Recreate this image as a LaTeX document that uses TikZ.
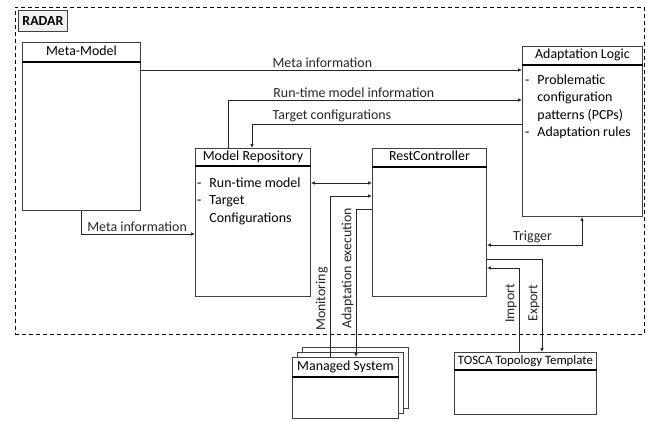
\documentclass[tikz,border=0pt]{standalone}
\usepackage{fontspec}
\setmainfont{Carlito}
\usepackage{tikz}
\usetikzlibrary{arrows.meta,positioning,calc}

\begin{document}
\begin{tikzpicture}[
  x=1pt, y=-1pt,
  font=\fontsize{13.9}{17.5}\selectfont,
  comp/.style={rectangle, draw=black!75, line width=0.9pt, fill=white, anchor=north west, inner sep=0pt},
  head/.style={inner sep=0pt, text height=9.5pt, text depth=3pt},
  sep/.style={line width=1.8pt},
  list/.style={anchor=north west, inner sep=0pt, align=left},
  flow/.style={-{Latex[length=4pt,width=3.5pt]}, line width=0.7pt, black!85},
  dflow/.style={{Latex[length=4pt,width=3.5pt]}-{Latex[length=4pt,width=3.5pt]}, line width=0.7pt, black!85},
  lbl/.style={inner sep=2pt}
]
  \useasboundingbox (0,0) rectangle (655,420);

  % RADAR frame
  \node[comp, draw=black, fill=none, dash pattern=on 4pt off 3pt, minimum width=629pt, minimum height=327pt] (radar) at (15,7) {};
  \node[comp, fill=gray!12, minimum width=49pt, minimum height=21pt, font=\fontsize{13.9}{17}\selectfont\bfseries] (radartag) at ([xshift=3pt,yshift=-3pt]radar.north west) {RADAR};

  % Components
  \node[comp, minimum width=118pt, minimum height=168pt] (meta) at (22,42) {};
  \node[head] (metahead) at ([yshift=-10pt]meta.north) {Meta-Model};
  \draw[sep] ([yshift=-20pt]meta.north west) -- ([yshift=-20pt]meta.north east);

  \node[comp, minimum width=120pt, minimum height=170pt] (adapt) at (522,46) {};
  \node[head] (adapthead) at ([yshift=-9.5pt]adapt.north) {Adaptation Logic};
  \draw[sep] ([yshift=-19pt]adapt.north west) -- ([yshift=-19pt]adapt.north east);
  \node[list] (adaptlist) at ([xshift=3pt,yshift=-26pt]adapt.north west)
    {\begin{tabular}{@{}l@{\hspace{8pt}}l@{}}-&Problematic\\&configuration\\&patterns (PCPs)\\-&Adaptation rules\end{tabular}};

  \node[comp, minimum width=115pt, minimum height=148pt] (repo) at (195,148) {};
  \node[head] (repohead) at ([yshift=-9pt]repo.north) {Model Repository};
  \draw[sep] ([yshift=-18pt]repo.north west) -- ([yshift=-18pt]repo.north east);
  \node[list] (repolist) at ([xshift=2pt,yshift=-27pt]repo.north west)
    {\begin{tabular}{@{}l@{\hspace{8pt}}l@{}}-&Run-time model\\-&Target\\&Configurations\end{tabular}};

  \node[comp, minimum width=114pt, minimum height=148pt] (rest) at (372,148) {};
  \node[head] (resthead) at ([yshift=-9.5pt]rest.north) {RestController};
  \draw[sep] ([yshift=-19pt]rest.north west) -- ([yshift=-19pt]rest.north east);

  % Managed System (stacked)
  \node[comp, minimum width=106pt, minimum height=61pt] (msback2) at (302,347) {};
  \node[comp, minimum width=106pt, minimum height=61pt] (msback1) at (297,352) {};
  \node[comp, minimum width=106pt, minimum height=61pt] (ms) at (292,357) {};
  \node[head] (mshead) at ([yshift=-10pt]ms.north) {Managed System};
  \draw[sep] ([yshift=-20pt]ms.north west) -- ([yshift=-20pt]ms.north east);

  \node[comp, minimum width=142pt, minimum height=62pt] (tosca) at (454,352) {};
  \node[head, font=\fontsize{12.8}{15}\selectfont] (toscahead) at ([yshift=-9pt]tosca.north) {TOSCA Topology Template};
  \draw[sep] ([yshift=-18pt]tosca.north west) -- ([yshift=-18pt]tosca.north east);

  % Connectors
  \draw[flow] ([yshift=-28pt]meta.north east) -- ([yshift=-24pt]adapt.north west)
    node[lbl, above, pos=0.476] {Meta information};
  \draw[flow] ([xshift=33pt]repo.north west) |- ([yshift=-54pt]adapt.north west)
    node[lbl, above, pos=0.714] {Run-time model information};
  \draw[flow] ([yshift=-78pt]adapt.north west) -| ([xshift=57pt]repo.north west)
    node[lbl, above, pos=0.352] {Target configurations};
  \draw[flow] ([xshift=59pt]meta.south west) |- ([yshift=-86pt]repo.north west)
    node[lbl, above, pos=0.746] {Meta information};
  \draw[dflow] ([yshift=-35pt]repo.north east) -- ([yshift=-35pt]rest.north west);
  \draw[flow] ([xshift=38pt]ms.north west) |- ([yshift=-48pt]rest.north west)
    node[lbl, above, rotate=90, pos=0.18] {Monitoring};
  \draw[flow] ([yshift=-61pt]rest.north west) -| ([xshift=64pt]ms.north west)
    node[lbl, above, rotate=90, pos=0.70] {Adaptation execution};
  \draw[dflow] ([xshift=60pt]adapt.south west) |- ([yshift=-97pt]rest.north east)
    node[lbl, above, pos=0.76] {Trigger};
  \draw[flow] ([yshift=-111pt]rest.north east) -| ([xshift=88pt]tosca.north west)
    node[lbl, above, rotate=90, pos=0.737] {Export};
  \draw[flow] ([xshift=65pt]tosca.north west) |- ([yshift=-120pt]rest.north east)
    node[lbl, above, rotate=90, pos=0.29] {Import};
\end{tikzpicture}
\end{document}
